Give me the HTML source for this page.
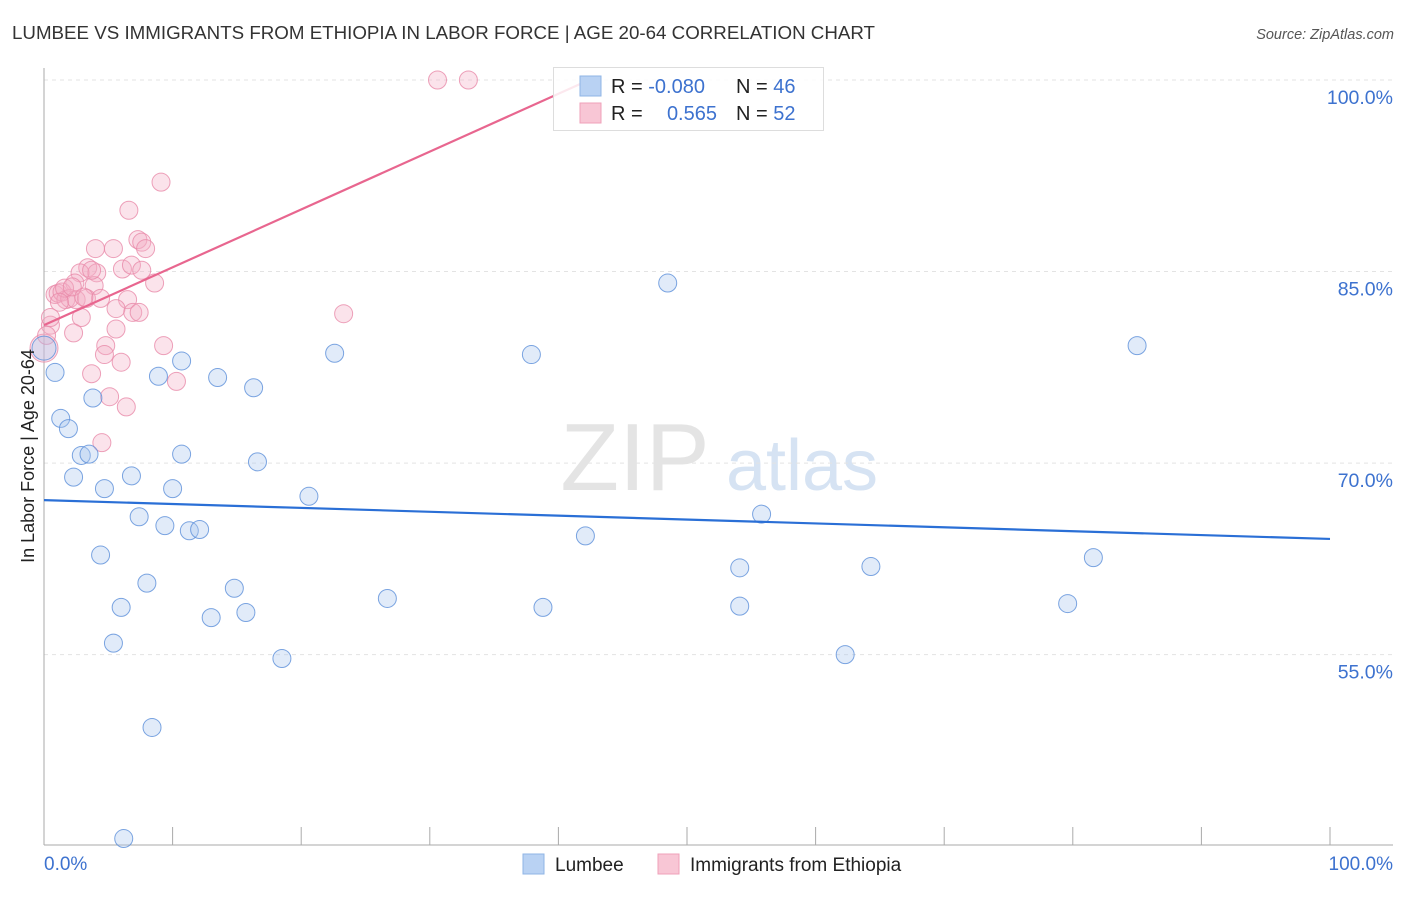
<!DOCTYPE html>
<html><head><meta charset="utf-8"><style>
body{margin:0;background:#fff;font-family:"Liberation Sans",sans-serif;}
svg text{font-family:"Liberation Sans",sans-serif;}
</style></head><body>
<svg id="chart" width="1406" height="892" viewBox="0 0 1406 892" xmlns="http://www.w3.org/2000/svg">
<text x="12" y="39" font-size="18" fill="#333" textLength="863" lengthAdjust="spacingAndGlyphs">LUMBEE VS IMMIGRANTS FROM ETHIOPIA IN LABOR FORCE | AGE 20-64 CORRELATION CHART</text>
<text x="1394" y="39" font-size="14.5" fill="#555" font-style="italic" text-anchor="end">Source: ZipAtlas.com</text>
<g>
<text x="635" y="490" font-size="96" fill="#e4e4e4" text-anchor="middle" font-family="Liberation Serif,serif">ZIP</text>
<text x="802" y="490" font-size="72" fill="#d6e3f3" text-anchor="middle">atlas</text>
</g>
<g id="grid"></g>
<g id="axes"></g>
<g id="marks"></g>
<g>
<rect x="553.5" y="67.5" width="270" height="63" fill="#fff" fill-opacity="0.85" stroke="#ddd"/>
<rect x="580" y="76" width="21" height="20" fill="#b9d2f3" stroke="#8fb4e6"/>
<rect x="580" y="103" width="21" height="20" fill="#f8c6d5" stroke="#efa0b9"/>
<text x="611" y="93" font-size="20" fill="#222">R = <tspan fill="#3d72cf">-0.080</tspan></text>
<text x="736" y="93" font-size="20" fill="#222">N = <tspan fill="#3d72cf">46</tspan></text>
<text x="611" y="120" font-size="20" fill="#222">R = </text>
<text x="717" y="120" font-size="20" fill="#3d72cf" text-anchor="end">0.565</text>
<text x="736" y="120" font-size="20" fill="#222">N = <tspan fill="#3d72cf">52</tspan></text>
</g>
<g>
<rect x="523" y="854" width="21" height="20" fill="#b9d2f3" stroke="#8fb4e6"/>
<text x="555" y="871" font-size="19" fill="#222">Lumbee</text>
<rect x="658" y="854" width="21" height="20" fill="#f8c6d5" stroke="#efa0b9"/>
<text x="690" y="871" font-size="19" fill="#222">Immigrants from Ethiopia</text>
</g>
<text transform="translate(34,456) rotate(-90)" font-size="18" fill="#222" text-anchor="middle">In Labor Force | Age 20-64</text>
</svg>
<script>
const yTicks=[100,85,70,55];
const yTickLabels=["100.0%","85.0%","70.0%","55.0%"];
const xTickLabels=["0.0%","100.0%"];
const blueX=[0,0.86,1.3,1.9,3.8,2.9,3.5,2.3,4.7,4.4,6.0,5.4,6.8,7.4,8.0,8.4,6.2,8.9,10.7,10.0,10.7,9.4,11.3,12.1,13.5,14.8,13.0,15.7,16.3,16.6,18.5,20.6,22.6,26.7,37.9,38.8,42.1,48.5,54.1,54.1,55.8,62.3,64.3,79.6,81.6,85.0];
const blueY=[79.0,77.1,73.5,72.7,75.1,70.6,70.7,68.9,68.0,62.8,58.7,55.9,69.0,65.8,60.6,49.3,40.6,76.8,78.0,68.0,70.7,65.1,64.7,64.8,76.7,60.2,57.9,58.3,75.9,70.1,54.7,67.4,78.6,59.4,78.5,58.7,64.3,84.1,61.8,58.8,66.0,55.0,61.9,59.0,62.6,79.2];
const pinkX=[30.6,33.0,9.1,6.6,5.4,4.0,7.3,7.6,7.9,3.4,4.1,2.8,6.1,6.8,7.6,8.6,3.9,2.4,0.86,1.1,1.4,1.7,2.0,2.5,3.3,4.4,6.5,5.6,6.9,7.4,2.9,0.5,0.5,2.3,5.6,4.8,4.7,6.0,9.3,3.7,10.3,5.1,6.4,4.5,23.3,0,1.6,2.2,1.2,0.2,3.1,3.7];
const pinkY=[100,100,92.0,89.8,86.8,86.8,87.5,87.3,86.8,85.3,84.9,84.9,85.2,85.5,85.1,84.1,83.9,84.1,83.2,83.3,83.4,82.8,82.9,82.8,82.9,82.9,82.8,82.1,81.8,81.8,81.4,80.8,81.4,80.2,80.5,79.2,78.5,77.9,79.2,77.0,76.4,75.2,74.4,71.6,81.7,79.0,83.7,83.8,82.6,80.0,83.0,85.1];
const blueTrend=[67.1,64.06];
const pinkTrend=[80.8,0.453];
const NS="http://www.w3.org/2000/svg";
const X=v=>44+v*12.86, Y=v=>80+(100-v)*12.77;
function mk(tag,attrs,parent){const e=document.createElementNS(NS,tag);for(const k in attrs)e.setAttribute(k,attrs[k]);parent.appendChild(e);return e;}
const grid=document.getElementById('grid'),axes=document.getElementById('axes'),marks=document.getElementById('marks');
yTicks.forEach((t,i)=>{
 const l=mk('line',{x1:44,x2:1393,y1:Y(t),y2:Y(t),stroke:'#e3e3e3','stroke-dasharray':'4,4'},grid);
 
 
 const tx=mk('text',{x:1393,y:Y(t)+24,'font-size':19.5,fill:'#3d72cf','text-anchor':'end'},axes);
 tx.textContent=yTickLabels[i];
 
 
});
mk('line',{x1:44,x2:44,y1:68,y2:845,stroke:'#aaa'},axes);
mk('line',{x1:44,x2:1393,y1:845,y2:845,stroke:'#aaa'},axes);
for(let i=0;i<=10;i++){mk('line',{x1:X(i*10),x2:X(i*10),y1:827,y2:845,stroke:'#aaa'},axes);}
[[0,44,'start'],[100,1393,'end']].forEach((d,i)=>{
 const tx=mk('text',{x:d[1],y:870,'font-size':19,fill:'#3d72cf','text-anchor':d[2]},axes);
 tx.textContent=xTickLabels[i];
 
 
});
pinkX.forEach((x,i)=>{
 const c=mk('circle',{cx:X(x),cy:Y(pinkY[i]),r:(x===0?14:9),fill:'#f4b0c5','fill-opacity':0.35,stroke:'#e88aa9','stroke-width':1,'stroke-opacity':0.8},marks);
 
 
});
blueX.forEach((x,i)=>{
 const c=mk('circle',{cx:X(x),cy:Y(blueY[i]),r:(x===0?12:9),fill:'#a9c7ee','fill-opacity':0.35,stroke:'#5b8fd9','stroke-width':1,'stroke-opacity':0.8},marks);
 
 
});
const bl=mk('line',{x1:X(0),y1:Y(blueTrend[0]),x2:X(100),y2:Y(blueTrend[1]),stroke:'#2a6fd6','stroke-width':2.2},marks);


const pEnd=(100-pinkTrend[0])/pinkTrend[1];
const pl=mk('line',{x1:X(0),y1:Y(pinkTrend[0]),x2:X(pEnd),y2:Y(100),stroke:'#e8668f','stroke-width':2.2},marks);


</script>
</body></html>
